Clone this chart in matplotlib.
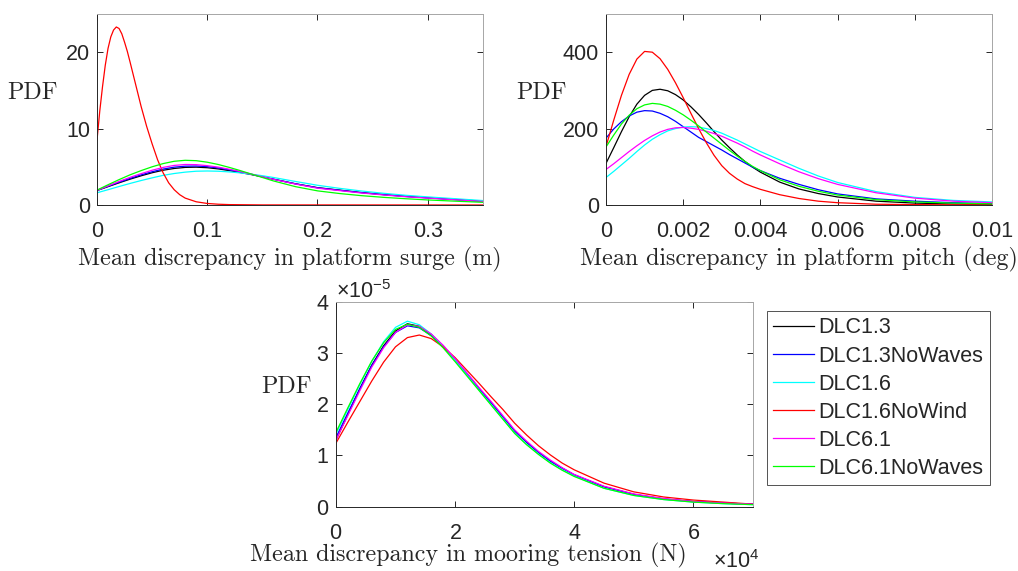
import matplotlib
matplotlib.use("Agg")
import matplotlib.pyplot as plt
import matplotlib.transforms as mtransforms
from matplotlib.ticker import FuncFormatter, ScalarFormatter

plt.rcParams["font.family"] = ["Liberation Sans", "DejaVu Sans"]
plt.rcParams["mathtext.fontset"] = "custom"
plt.rcParams["mathtext.rm"] = "Liberation Sans"
plt.rcParams["mathtext.it"] = "Liberation Sans:italic"

# case names and matlab style colours
case_names = ["DLC1.3", "DLC1.3NoWaves", "DLC1.6", "DLC1.6NoWind", "DLC6.1", "DLC6.1NoWaves"]
case_colors = ["#000000", "#0000ff", "#00ffff", "#ff0000", "#ff00ff", "#00ff00"]

# --- platform surge (m) ---
surge_x = [0, 0.01, 0.02, 0.03, 0.04, 0.05, 0.06, 0.07, 0.08, 0.09, 0.10, 0.11, 0.12, 0.13,
           0.14, 0.15, 0.16, 0.18, 0.20, 0.22, 0.24, 0.26, 0.28, 0.30, 0.32, 0.35]
surge_dlc13 = [1.9, 2.4, 2.9, 3.38, 3.82, 4.22, 4.55, 4.78, 4.92, 4.95, 4.88, 4.72, 4.5, 4.25,
               3.98, 3.68, 3.38, 2.78, 2.27, 1.95, 1.63, 1.37, 1.14, 0.95, 0.77, 0.5]
surge_dlc13_nowaves = [1.9, 2.45, 2.98, 3.48, 3.94, 4.35, 4.7, 4.95, 5.08, 5.1, 5.02, 4.85, 4.6, 4.32,
                       4.02, 3.7, 3.38, 2.77, 2.25, 1.93, 1.61, 1.35, 1.12, 0.93, 0.75, 0.48]
surge_dlc16 = [1.6, 2.0, 2.42, 2.82, 3.2, 3.55, 3.88, 4.12, 4.3, 4.42, 4.45, 4.42, 4.33, 4.2,
               4.03, 3.83, 3.6, 3.08, 2.58, 2.18, 1.83, 1.53, 1.27, 1.06, 0.87, 0.58]
surge_dlc61 = [1.9, 2.5, 3.08, 3.62, 4.1, 4.55, 4.92, 5.18, 5.3, 5.28, 5.15, 4.95, 4.68, 4.38,
               4.04, 3.7, 3.36, 2.74, 2.2, 1.88, 1.57, 1.31, 1.08, 0.9, 0.72, 0.46]
surge_dlc61_nowaves = [1.95, 2.65, 3.32, 3.95, 4.5, 5.0, 5.42, 5.72, 5.85, 5.8, 5.6, 5.3, 4.92, 4.5,
                       4.05, 3.6, 3.15, 2.4, 1.85, 1.5, 1.22, 1.0, 0.82, 0.66, 0.53, 0.35]
# the nowind case is narrow so it gets its own finer x points
surge_x_nowind = [0, 0.0025, 0.005, 0.0075, 0.01, 0.0125, 0.015, 0.0175, 0.02, 0.0225, 0.025, 0.0275,
                  0.03, 0.035, 0.04, 0.045, 0.05, 0.055, 0.06, 0.065, 0.07, 0.075, 0.08, 0.09,
                  0.10, 0.11, 0.12, 0.15, 0.35]
surge_dlc16_nowind = [8.5, 12.3, 15.5, 18.3, 20.5, 22.0, 22.9, 23.3, 23.1, 22.4, 21.3, 20.1,
                      18.7, 15.8, 12.9, 10.3, 8.0, 5.9, 4.2, 2.9, 2.0, 1.35, 0.9, 0.42,
                      0.2, 0.1, 0.05, 0.01, 0.0]

# --- platform pitch (deg) ---
pitch_x = [0, 0.0002, 0.0004, 0.0006, 0.0008, 0.001, 0.0012, 0.0014, 0.0016, 0.0018, 0.002,
           0.0022, 0.0024, 0.0026, 0.0028, 0.003, 0.0032, 0.0034, 0.0036, 0.0038, 0.004,
           0.0045, 0.005, 0.0055, 0.006, 0.007, 0.008, 0.009, 0.01]
pitch_dlc13 = [109, 150, 192, 231, 264, 287, 300, 303, 299, 289, 275,
               257, 237, 215, 192, 170, 150, 131, 114, 99, 86,
               60, 42, 30, 21, 10, 5, 2.5, 1.5]
pitch_dlc13_nowaves = [175, 199, 218, 233, 243, 247, 246, 240, 231, 219, 205,
                       191, 177, 166, 155, 144, 132, 121, 110, 99, 90,
                       70, 54, 40, 29, 16, 10, 6, 3.5]
pitch_dlc16 = [72, 88, 105, 122, 140, 157, 172, 184, 194, 200, 204,
               205, 204, 200, 195, 188, 179, 170, 160, 150, 140,
               118, 96, 76, 59, 35, 20, 12, 8]
pitch_dlc16_nowind = [153, 222, 287, 342, 382, 402, 400, 383, 355, 320, 281,
                      240, 200, 163, 130, 103, 83, 68, 56, 48, 41,
                      27, 17, 10, 6, 2, 1, 0.5, 0.2]
pitch_dlc61 = [93, 108, 124, 140, 155, 169, 181, 191, 198, 202, 203,
               201, 198, 193, 187, 180, 171, 162, 152, 141, 131,
               108, 87, 69, 54, 32, 18, 10, 6]
pitch_dlc61_nowaves = [152, 183, 212, 235, 252, 262, 266, 264, 258, 248, 236,
                       222, 207, 191, 175, 159, 143, 128, 114, 101, 90,
                       66, 49, 36, 26, 14, 8, 5, 3]

# --- mooring tension (N), x in 1e4 N and pdf in 1e-5 ---
TENSION_X_SCALE = 1e4
TENSION_PDF_SCALE = 1e-5
tension_x = [0, 0.2, 0.4, 0.6, 0.8, 1.0, 1.2, 1.4, 1.6, 1.8, 2.0, 2.2, 2.4, 2.6, 2.8, 3.0,
             3.2, 3.4, 3.6, 3.8, 4.0, 4.5, 5.0, 5.5, 6.0, 6.5, 7.0]
tension_dlc13 = [1.3, 1.8, 2.3, 2.76, 3.14, 3.43, 3.57, 3.52, 3.36, 3.13, 2.87, 2.59, 2.31, 2.04, 1.76, 1.48,
                 1.26, 1.06, 0.89, 0.75, 0.62, 0.39, 0.24, 0.15, 0.1, 0.07, 0.05]
tension_dlc13_nowaves = [1.35, 1.83, 2.3, 2.75, 3.12, 3.4, 3.53, 3.49, 3.34, 3.12, 2.87, 2.59, 2.31, 2.04, 1.76, 1.48,
                         1.26, 1.06, 0.89, 0.75, 0.62, 0.39, 0.24, 0.15, 0.1, 0.07, 0.05]
tension_dlc16 = [1.42, 1.9, 2.38, 2.83, 3.22, 3.5, 3.62, 3.55, 3.37, 3.13, 2.86, 2.57, 2.28, 2.0, 1.72, 1.44,
                 1.22, 1.03, 0.86, 0.72, 0.6, 0.36, 0.22, 0.14, 0.09, 0.06, 0.04]
tension_dlc16_nowind = [1.24, 1.65, 2.05, 2.45, 2.82, 3.12, 3.3, 3.35, 3.28, 3.12, 2.91, 2.66, 2.41, 2.15, 1.9, 1.63,
                        1.4, 1.19, 1.01, 0.85, 0.72, 0.46, 0.29, 0.19, 0.13, 0.09, 0.05]
tension_dlc61 = [1.3, 1.78, 2.26, 2.72, 3.1, 3.4, 3.55, 3.52, 3.37, 3.15, 2.89, 2.61, 2.33, 2.06, 1.78, 1.5,
                 1.28, 1.08, 0.91, 0.76, 0.63, 0.4, 0.25, 0.16, 0.1, 0.07, 0.05]
tension_dlc61_nowaves = [1.45, 1.93, 2.4, 2.84, 3.2, 3.46, 3.56, 3.5, 3.33, 3.1, 2.83, 2.55, 2.27, 1.99, 1.71, 1.43,
                         1.21, 1.02, 0.85, 0.71, 0.59, 0.36, 0.22, 0.14, 0.09, 0.06, 0.04]

DARK = "#262626"
LIGHT = "#a6a6a6"
TICK_SIZE = 15.5
LABEL_SIZE = 17.3
LW = 0.9


def style_axes(ax):
    ax.tick_params(direction="in", length=4, width=0.7, colors=DARK, labelsize=TICK_SIZE,
                   top=True, right=True)
    ax.tick_params(axis="x", pad=11.5)
    ax.tick_params(axis="y", pad=5)
    for side in ["left", "bottom"]:
        ax.spines[side].set_color(DARK)
        ax.spines[side].set_linewidth(0.7)
    for side in ["top", "right"]:
        ax.spines[side].set_color(LIGHT)
        ax.spines[side].set_linewidth(0.7)


def pdf_label(ax, xpos):
    ax.set_ylabel("PDF", rotation=0, fontfamily="cmr10", fontsize=LABEL_SIZE, color=DARK,
                  ha="right", va="center")
    ax.yaxis.set_label_coords(xpos, 0.585)


fig = plt.figure(figsize=(10.18, 5.71), dpi=100)
ax1 = fig.add_axes([0.0953, 0.641, 0.379, 0.3345])
ax2 = fig.add_axes([0.5953, 0.641, 0.379, 0.3345])
ax3 = fig.add_axes([0.330, 0.1126, 0.4096, 0.359])

# surge panel
surge_series = [surge_dlc13, surge_dlc13_nowaves, surge_dlc16, None, surge_dlc61, surge_dlc61_nowaves]
for name, color, vals in zip(case_names, case_colors, surge_series):
    if vals is None:
        ax1.plot(surge_x_nowind, surge_dlc16_nowind, color=color, lw=LW, label=name)
    else:
        ax1.plot(surge_x, vals, color=color, lw=LW, label=name)
ax1.set_xlim(0, 0.35)
ax1.set_ylim(0, 25)
ax1.set_xticks([0, 0.1, 0.2, 0.3])
ax1.set_yticks([0, 10, 20])
ax1.xaxis.set_major_formatter(FuncFormatter(lambda v, p: f"{v:g}"))
ax1.set_xlabel("Mean discrepancy in platform surge (m)", fontfamily="cmr10",
               fontsize=LABEL_SIZE, color=DARK, labelpad=3.5)
pdf_label(ax1, -0.101)
style_axes(ax1)

# pitch panel
pitch_series = [pitch_dlc13, pitch_dlc13_nowaves, pitch_dlc16, pitch_dlc16_nowind, pitch_dlc61, pitch_dlc61_nowaves]
for name, color, vals in zip(case_names, case_colors, pitch_series):
    ax2.plot(pitch_x, vals, color=color, lw=LW, label=name)
ax2.set_xlim(0, 0.01)
ax2.set_ylim(0, 500)
ax2.set_xticks([0, 0.002, 0.004, 0.006, 0.008, 0.01])
ax2.set_yticks([0, 200, 400])
ax2.xaxis.set_major_formatter(FuncFormatter(lambda v, p: f"{v:g}"))
ax2.set_xlabel("Mean discrepancy in platform pitch (deg)", fontfamily="cmr10",
               fontsize=LABEL_SIZE, color=DARK, labelpad=3.5)
pdf_label(ax2, -0.101)
style_axes(ax2)

# mooring tension panel
tension_series = [tension_dlc13, tension_dlc13_nowaves, tension_dlc16, tension_dlc16_nowind,
                  tension_dlc61, tension_dlc61_nowaves]
tx = [v * TENSION_X_SCALE for v in tension_x]
for name, color, vals in zip(case_names, case_colors, tension_series):
    ax3.plot(tx, [v * TENSION_PDF_SCALE for v in vals], color=color, lw=LW, label=name)
ax3.set_xlim(0, 7e4)
ax3.set_ylim(0, 4e-5)
ax3.set_xticks([0, 2e4, 4e4, 6e4])
ax3.set_yticks([0, 1e-5, 2e-5, 3e-5, 4e-5])
for axis in [ax3.xaxis, ax3.yaxis]:
    fmt = ScalarFormatter(useMathText=True)
    fmt.set_powerlimits((0, 0))
    axis.set_major_formatter(fmt)
    axis.get_offset_text().set_fontsize(TICK_SIZE)
    axis.get_offset_text().set_color(DARK)
off = ax3.xaxis.get_offset_text()
off.set_transform(off.get_transform() + mtransforms.ScaledTranslation(0.07, -0.02, fig.dpi_scale_trans))
ax3.set_xlabel("Mean discrepancy in mooring tension (N)", fontfamily="cmr10",
               fontsize=LABEL_SIZE, color=DARK, va="center")
ax3.xaxis.set_label_coords(0.317, -0.236)
pdf_label(ax3, -0.0576)
style_axes(ax3)

leg = ax3.legend(loc="upper left", bbox_to_anchor=(767 / 1018, 1 - 311 / 571),
                 bbox_transform=fig.transFigure, fontsize=TICK_SIZE, frameon=True,
                 fancybox=False, edgecolor=DARK, borderaxespad=0, borderpad=0.3,
                 handlelength=1.9, handletextpad=0.2, labelspacing=0.33)
leg.get_frame().set_linewidth(0.7)
for t in leg.get_texts():
    t.set_color(DARK)

fig.savefig("out.png", dpi=100)
